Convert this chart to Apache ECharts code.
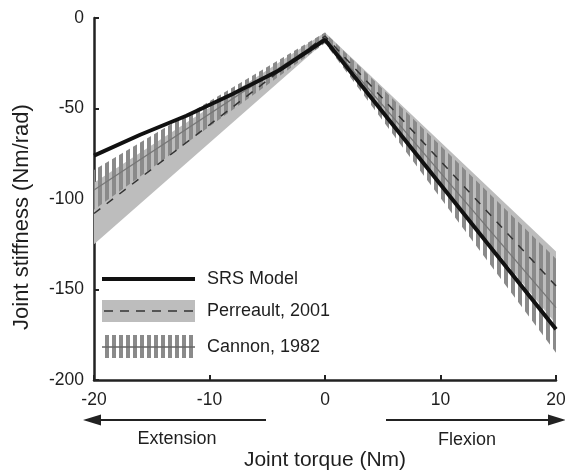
<!DOCTYPE html>
<html>
<head>
<meta charset="utf-8">
<script src="https://cdn.jsdelivr.net/npm/echarts@6.0.0/dist/echarts.min.js"></script>
<style>
  html, body { margin: 0; padding: 0; background: #fff; }
  #chart { width: 565px; height: 472px; }
</style>
</head>
<body>
<div id="chart"></div>
<script>
// band end points (torque, Nm)
const bandX = [-20, 0, 20];
// Perreault, 2001 : mean and spread
const perreaultHi = [-91, -8, -129];
const perreaultLo = [-125, -13, -169];
const perreaultMean = [-108, -10, -148];
// Cannon, 1982 : mean and spread
const cannonHi = [-84, -8, -133];
const cannonLo = [-106, -14, -185];
const cannonMean = [-95, -11, -160];
// SRS model
const srsX = [-20, -16, -12, -8, -4, 0, 20];
const srsY = [-76, -64.5, -54, -42, -29, -12, -172];

const xTicks = [-20, -10, 0, 10, 20];
const yTicks = [-200, -150, -100, -50, 0];

const FONT = '"Liberation Sans", Arial, Helvetica, sans-serif';
const TXT = '#1e1e1e';

// vertical hatch used for the Cannon band
const hatch = document.createElement('canvas');
hatch.width = 7;
hatch.height = 4;
(function () {
  const ctx = hatch.getContext('2d');
  ctx.fillStyle = '#8a8a8a';
  ctx.fillRect(0, 0, 4, 4);
})();
const hatchFill = { image: hatch, repeat: 'repeat' };

function zip(xs, ys) {
  return xs.map((x, i) => [x, ys[i]]);
}

// one polygon between hi and lo edges
function bandItem(hi, lo, fill) {
  return function (params, api) {
    if (params.dataIndex !== 0) return null;
    const pts = [];
    for (let i = 0; i < bandX.length; i++) pts.push(api.coord([bandX[i], hi[i]]));
    for (let i = bandX.length - 1; i >= 0; i--) pts.push(api.coord([bandX[i], lo[i]]));
    return { type: 'polygon', shape: { points: pts }, style: { fill: fill } };
  };
}

let chart = echarts.init(document.getElementById('chart'), null, { renderer: 'canvas' });

let option = {
  animation: false,
  backgroundColor: '#fff',
  grid: { left: 94, right: 9, top: 18, bottom: 92, containLabel: false, outerBoundsMode: 'none' },
  xAxis: {
    type: 'value',
    min: xTicks[0],
    max: xTicks[xTicks.length - 1],
    interval: 10,
    name: 'Joint torque (Nm)',
    nameLocation: 'middle',
    nameGap: 70,
    nameTextStyle: { fontFamily: FONT, fontSize: 21, color: TXT },
    axisLine: { onZero: false, lineStyle: { color: '#222', width: 2.5 } },
    axisTick: { inside: true, length: 5, lineStyle: { color: '#222', width: 2 } },
    axisLabel: { margin: 11, fontFamily: FONT, fontSize: 17.5, color: TXT, showMaxLabel: true, showMinLabel: true },
    splitLine: { show: false }
  },
  yAxis: {
    type: 'value',
    min: yTicks[0],
    max: yTicks[yTicks.length - 1],
    interval: 50,
    name: 'Joint stiffness (Nm/rad)',
    nameLocation: 'middle',
    nameGap: 61,
    nameTextStyle: { fontFamily: FONT, fontSize: 22, color: TXT, padding: [0, 36, 0, 0] },
    axisLine: { onZero: false, lineStyle: { color: '#222', width: 2.5 } },
    axisTick: { inside: true, length: 5, lineStyle: { color: '#222', width: 2 } },
    axisLabel: { margin: 10, fontFamily: FONT, fontSize: 17.5, color: TXT },
    splitLine: { show: false }
  },
  series: [
    {
      name: 'Perreault band',
      type: 'custom',
      z: 1,
      renderItem: bandItem(perreaultHi, perreaultLo, '#bdbdbd'),
      data: zip(bandX, perreaultMean)
    },
    {
      name: 'Cannon band',
      type: 'custom',
      z: 2,
      renderItem: bandItem(cannonHi, cannonLo, hatchFill),
      data: zip(bandX, cannonMean)
    },
    {
      name: 'Cannon, 1982',
      type: 'line',
      z: 3,
      showSymbol: false,
      lineStyle: { color: '#777', width: 1.3 },
      data: zip(bandX, cannonMean)
    },
    {
      name: 'Perreault, 2001',
      type: 'line',
      z: 4,
      showSymbol: false,
      lineStyle: { color: '#333', width: 1.5, type: [8, 8] },
      data: zip(bandX, perreaultMean)
    },
    {
      name: 'SRS Model',
      type: 'line',
      z: 5,
      showSymbol: false,
      lineStyle: { color: '#111', width: 4 },
      data: zip(srsX, srsY)
    }
  ],
  graphic: [
    // legend
    { type: 'line', shape: { x1: 102, y1: 279, x2: 195, y2: 279 }, style: { stroke: '#111', lineWidth: 4 } },
    { type: 'text', x: 207, y: 279, style: { text: 'SRS Model', font: '18px ' + FONT, fill: TXT, verticalAlign: 'middle' } },
    { type: 'rect', shape: { x: 102, y: 300, width: 93, height: 22 }, style: { fill: '#bdbdbd' } },
    { type: 'line', shape: { x1: 104, y1: 311, x2: 195, y2: 311 }, style: { stroke: '#333', lineWidth: 1.5, lineDash: [9, 7] } },
    { type: 'text', x: 207, y: 311, style: { text: 'Perreault, 2001', font: '18px ' + FONT, fill: TXT, verticalAlign: 'middle' } },
    { type: 'rect', shape: { x: 102, y: 335, width: 93, height: 23 }, style: { fill: hatchFill } },
    { type: 'line', shape: { x1: 102, y1: 347, x2: 195, y2: 347 }, style: { stroke: '#666', lineWidth: 1.3 } },
    { type: 'text', x: 207, y: 347, style: { text: 'Cannon, 1982', font: '18px ' + FONT, fill: TXT, verticalAlign: 'middle' } },
    // direction arrows
    { type: 'line', shape: { x1: 96, y1: 420, x2: 266, y2: 420 }, style: { stroke: '#222', lineWidth: 2 } },
    { type: 'polygon', shape: { points: [[83, 420], [101, 414.5], [101, 425.5]] }, style: { fill: '#222' } },
    { type: 'text', x: 177, y: 439, style: { text: 'Extension', font: '18px ' + FONT, fill: TXT, align: 'center', verticalAlign: 'middle' } },
    { type: 'line', shape: { x1: 386, y1: 420, x2: 552, y2: 420 }, style: { stroke: '#222', lineWidth: 2 } },
    { type: 'polygon', shape: { points: [[566, 420], [548, 414.5], [548, 425.5]] }, style: { fill: '#222' } },
    { type: 'text', x: 467, y: 440, style: { text: 'Flexion', font: '18px ' + FONT, fill: TXT, align: 'center', verticalAlign: 'middle' } }
  ]
};

chart.setOption(option);
</script>
</body>
</html>
